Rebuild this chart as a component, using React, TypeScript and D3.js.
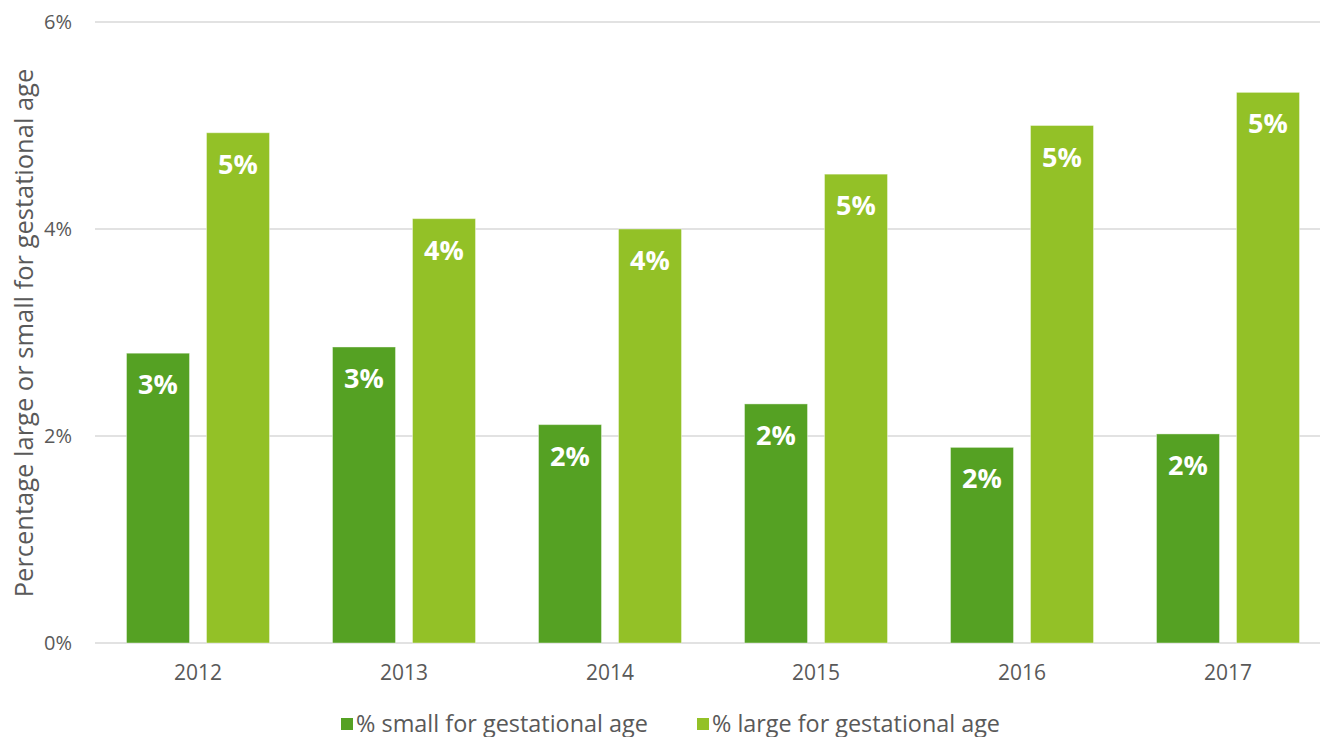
import React from "react";
import * as d3 from "d3";

const years = ["2012", "2013", "2014", "2015", "2016", "2017"];
const smallPct = [2.8, 2.86, 2.11, 2.31, 1.89, 2.02];
const largePct = [4.93, 4.1, 4.0, 4.53, 5.0, 5.32];
const smallLabels = ["3%", "3%", "2%", "2%", "2%", "2%"];
const largeLabels = ["5%", "4%", "4%", "5%", "5%", "5%"];
const yTicks = [0, 2, 4, 6];
const seriesNames = ["% small for gestational age", "% large for gestational age"];
const colors = ["#55a123", "#93c127"];

export default function App() {
  const W = 1320, H = 737;
  const left = 95, right = 1331, top = 22, bottom = 643;
  const x = d3.scaleBand().domain(years).range([left, right]).paddingInner(0).paddingOuter(0);
  const y = d3.scaleLinear().domain([0, 6]).range([bottom, top]);
  const bw = 63, gap = 17;
  const font = "'Open Sans', sans-serif";
  return (
    <svg width={W} height={H} style={{ position: "absolute", left: 0, top: 0, background: "#fff" }}>
      {yTicks.map((t) => (
        <g key={t}>
          <line x1={left} x2={W} y1={y(t)} y2={y(t)} stroke="#d9d9d9" strokeWidth={1.5} />
          <text x={72} y={y(t) + 7} textAnchor="end" fontFamily={font} fontSize={20} fill="#595959">{t}%</text>
        </g>
      ))}
      {years.map((yr, i) => {
        const cx = (x(yr) as number) + x.bandwidth() / 2;
        const xs = cx - gap / 2 - bw;
        const xl = cx + gap / 2;
        return (
          <g key={yr}>
            <rect x={xs} y={y(smallPct[i])} width={bw} height={bottom - y(smallPct[i])} fill={colors[0]} stroke="#fff" strokeOpacity={0.4} strokeWidth={1} />
            <rect x={xl} y={y(largePct[i])} width={bw} height={bottom - y(largePct[i])} fill={colors[1]} stroke="#fff" strokeOpacity={0.4} strokeWidth={1} />
            <text x={xs + bw / 2} y={y(smallPct[i]) + 41} textAnchor="middle" fontFamily={font} fontWeight="bold" fontSize={27} fill="#fff">{smallLabels[i]}</text>
            <text x={xl + bw / 2} y={y(largePct[i]) + 41} textAnchor="middle" fontFamily={font} fontWeight="bold" fontSize={27} fill="#fff">{largeLabels[i]}</text>
            <text x={cx} y={680} textAnchor="middle" fontFamily={font} fontSize={21} fill="#595959">{yr}</text>
          </g>
        );
      })}
      <text transform={`translate(33,${333}) rotate(-90)`} textAnchor="middle" fontFamily={font} fontSize={25.5} fill="#595959">
        Percentage large or small for gestational age
      </text>
      <g>
        <rect x={341} y={718} width={12} height={12} fill={colors[0]} />
        <text x={356} y={732} fontFamily={font} fontSize={23} fill="#595959" textLength={292} lengthAdjust="spacingAndGlyphs">{seriesNames[0]}</text>
        <rect x={697} y={718} width={12} height={12} fill={colors[1]} />
        <text x={712} y={732} fontFamily={font} fontSize={23} fill="#595959" textLength={288} lengthAdjust="spacingAndGlyphs">{seriesNames[1]}</text>
      </g>
    </svg>
  );
}
